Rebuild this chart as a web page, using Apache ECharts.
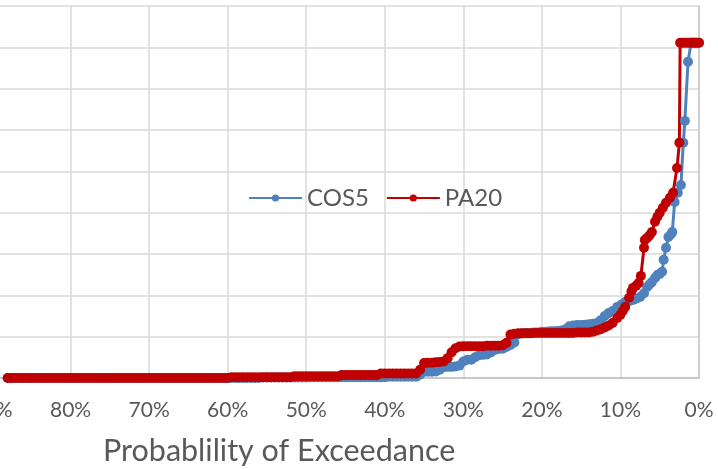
<!DOCTYPE html>
<html>
<head>
<meta charset="utf-8">
<script src="https://cdn.jsdelivr.net/npm/echarts@6/dist/echarts.min.js"></script>
<style>html,body{margin:0;padding:0;background:#fff;}#c{width:718px;height:469px;}</style>
</head>
<body>
<div id="c"></div>
<script>
// Probability of exceedance (fraction) vs value
const cos5Points = [
  [0.880,0.00],[0.875,0.00],[0.870,0.00],[0.865,0.00],[0.860,0.00],[0.855,0.00],[0.850,0.00],[0.845,0.00],[0.840,0.00],[0.835,0.00],
  [0.830,0.00],[0.825,0.00],[0.820,0.00],[0.815,0.00],[0.810,0.00],[0.805,0.00],[0.800,0.00],[0.795,0.00],[0.790,0.00],[0.785,0.00],
  [0.780,0.00],[0.775,0.00],[0.770,0.00],[0.765,0.00],[0.760,0.00],[0.755,0.00],[0.750,0.00],[0.745,0.00],[0.740,0.00],[0.735,0.00],
  [0.730,0.00],[0.725,0.00],[0.720,0.00],[0.715,0.00],[0.710,0.00],[0.705,0.00],[0.700,0.00],[0.695,0.00],[0.690,0.00],[0.685,0.00],
  [0.680,0.00],[0.675,0.00],[0.670,0.00],[0.665,0.00],[0.660,0.00],[0.655,0.00],[0.650,0.00],[0.645,0.00],[0.640,0.00],[0.635,0.00],
  [0.630,0.00],[0.625,0.00],[0.620,0.00],[0.615,0.00],[0.610,0.00],[0.605,0.00],[0.600,0.00],[0.595,0.00],[0.590,0.00],[0.585,0.00],
  [0.580,0.00],[0.575,0.00],[0.570,0.00],[0.565,0.00],[0.560,0.00],[0.555,0.01],[0.550,0.01],[0.545,0.01],[0.540,0.01],[0.535,0.01],
  [0.530,0.01],[0.525,0.01],[0.520,0.01],[0.515,0.01],[0.510,0.01],[0.505,0.01],[0.500,0.01],[0.495,0.02],[0.490,0.02],[0.485,0.02],
  [0.480,0.02],[0.475,0.02],[0.470,0.02],[0.465,0.02],[0.460,0.02],[0.455,0.02],[0.450,0.02],[0.445,0.02],[0.440,0.02],[0.435,0.02],
  [0.430,0.02],[0.425,0.02],[0.420,0.02],[0.415,0.02],[0.410,0.02],[0.405,0.02],[0.400,0.02],[0.395,0.03],[0.390,0.03],[0.385,0.03],
  [0.380,0.03],[0.375,0.03],[0.370,0.03],[0.365,0.03],[0.360,0.03],
  [0.355,0.08],[0.35,0.15],[0.345,0.15],[0.34,0.15],[0.335,0.16],[0.33,0.20],[0.325,0.26],
  [0.32,0.27],[0.315,0.27],[0.31,0.28],[0.305,0.30],[0.30,0.40],[0.295,0.44],[0.29,0.44],[0.285,0.50],[0.28,0.55],[0.275,0.56],
  [0.27,0.57],[0.265,0.62],[0.26,0.68],[0.255,0.70],[0.25,0.71],[0.245,0.75],[0.24,0.80],[0.235,0.86],[0.23,1.06],[0.225,1.08],
  [0.22,1.09],[0.215,1.09],[0.21,1.10],[0.205,1.10],[0.20,1.12],[0.195,1.12],[0.19,1.13],[0.185,1.13],[0.18,1.14],[0.175,1.15],
  [0.17,1.18],[0.165,1.25],[0.16,1.27],[0.155,1.28],[0.15,1.28],[0.145,1.29],[0.14,1.30],[0.135,1.31],[0.13,1.33],[0.125,1.40],
  [0.12,1.50],[0.115,1.57],[0.11,1.62],[0.104,1.72],[0.099,1.77],[0.094,1.84],[0.089,1.86],[0.084,1.89],[0.08,1.92],[0.075,1.96],
  [0.07,2.05],[0.066,2.20],[0.063,2.26],[0.06,2.32],[0.056,2.42],[0.053,2.49],[0.05,2.52],[0.047,2.57],[0.045,2.86],[0.042,3.15],
  [0.039,3.41],[0.036,3.47],[0.034,3.53],[0.031,4.26],[0.027,4.48],[0.023,4.67],[0.02,5.69],[0.018,6.22],[0.014,7.65],[0.01,8.11],
  [0.007,8.11],[0.004,8.11],[0.0,8.11]
];
const pa20Points = [
  [0.880,0.00],[0.875,0.00],[0.870,0.00],[0.865,0.00],[0.860,0.00],[0.855,0.00],[0.850,0.00],[0.845,0.00],[0.840,0.00],[0.835,0.00],
  [0.830,0.00],[0.825,0.00],[0.820,0.00],[0.815,0.00],[0.810,0.00],[0.805,0.00],[0.800,0.00],[0.795,0.00],[0.790,0.00],[0.785,0.00],
  [0.780,0.00],[0.775,0.00],[0.770,0.00],[0.765,0.00],[0.760,0.00],[0.755,0.00],[0.750,0.00],[0.745,0.00],[0.740,0.00],[0.735,0.00],
  [0.730,0.00],[0.725,0.00],[0.720,0.00],[0.715,0.00],[0.710,0.00],[0.705,0.00],[0.700,0.00],[0.695,0.00],[0.690,0.00],[0.685,0.00],
  [0.680,0.00],[0.675,0.00],[0.670,0.00],[0.665,0.00],[0.660,0.00],[0.655,0.00],[0.650,0.00],[0.645,0.00],[0.640,0.00],[0.635,0.00],
  [0.630,0.00],[0.625,0.00],[0.620,0.00],[0.615,0.00],[0.610,0.00],[0.605,0.00],[0.600,0.00],[0.595,0.02],[0.590,0.02],[0.585,0.02],
  [0.580,0.02],[0.575,0.02],[0.570,0.02],[0.565,0.02],[0.560,0.02],[0.555,0.02],[0.550,0.02],[0.545,0.02],[0.540,0.02],[0.535,0.02],
  [0.530,0.02],[0.525,0.02],[0.520,0.02],[0.515,0.04],[0.510,0.04],[0.505,0.04],[0.500,0.04],[0.495,0.04],[0.490,0.04],[0.485,0.04],
  [0.480,0.04],[0.475,0.04],[0.470,0.04],[0.465,0.04],[0.460,0.04],[0.455,0.07],[0.450,0.07],[0.445,0.07],[0.440,0.07],[0.435,0.07],
  [0.430,0.07],[0.425,0.07],[0.420,0.07],[0.415,0.07],[0.410,0.07],[0.405,0.11],[0.400,0.11],[0.395,0.11],[0.390,0.11],[0.385,0.11],
  [0.380,0.11],[0.375,0.11],[0.370,0.11],[0.365,0.11],[0.360,0.11],
  [0.355,0.20],[0.35,0.36],[0.345,0.37],[0.34,0.37],[0.335,0.38],[0.33,0.39],[0.325,0.40],
  [0.32,0.48],[0.315,0.62],[0.31,0.72],[0.305,0.76],[0.30,0.77],[0.295,0.77],[0.29,0.77],[0.285,0.77],[0.28,0.77],[0.275,0.77],
  [0.27,0.78],[0.265,0.78],[0.26,0.78],[0.255,0.78],[0.25,0.79],[0.245,0.85],[0.24,1.05],[0.235,1.07],[0.23,1.08],[0.225,1.08],
  [0.22,1.08],[0.215,1.08],[0.21,1.09],[0.205,1.09],[0.20,1.09],[0.195,1.09],[0.19,1.09],[0.185,1.09],[0.18,1.09],[0.175,1.09],
  [0.17,1.09],[0.165,1.09],[0.16,1.09],[0.155,1.10],[0.15,1.10],[0.145,1.10],[0.14,1.10],[0.135,1.12],[0.13,1.15],[0.125,1.18],
  [0.12,1.22],[0.115,1.27],[0.11,1.33],[0.104,1.45],[0.10,1.53],[0.097,1.62],[0.094,1.72],[0.089,1.94],[0.086,2.10],[0.084,2.18],
  [0.08,2.23],[0.077,2.30],[0.074,2.47],[0.07,3.15],[0.069,3.34],[0.066,3.39],[0.063,3.45],[0.06,3.53],[0.056,3.78],[0.053,3.90],
  [0.05,4.00],[0.046,4.12],[0.042,4.24],[0.037,4.36],[0.033,4.48],[0.028,5.08],[0.025,5.69],[0.024,8.11],[0.021,8.11],[0.018,8.11],
  [0.015,8.11],[0.012,8.11],[0.009,8.11],[0.006,8.11],[0.003,8.11],[0.0,8.11]
];
const seriesNames = ['COS5', 'PA20'];
const xTickStep = 0.1;
const axisTitle = 'Probablility of Exceedance';

const chart = echarts.init(document.getElementById('c'), null, {renderer: 'canvas'});
const font = 'Lato, "Open Sans", sans-serif';
chart.setOption({
  animation: false,
  backgroundColor: '#ffffff',
  title: {
    text: axisTitle,
    left: 103,
    top: 436,
    padding: 0,
    textStyle: {fontFamily: font, fontSize: 30.5, fontWeight: 'normal', color: '#595959'}
  },
  legend: {
    data: seriesNames,
    left: 248,
    top: 186,
    padding: 0,
    itemWidth: 53,
    itemHeight: 9,
    itemGap: 17,
    textStyle: {fontFamily: font, fontSize: 24, color: '#595959'}
  },
  grid: {left: -8, right: 19, top: 6, bottom: 91, containLabel: false, outerBoundsMode: 'none'},
  xAxis: {
    type: 'value',
    inverse: true,
    min: 0,
    max: 0.9,
    interval: xTickStep,
    axisLine: {show: true, lineStyle: {color: '#bfbfbf', width: 1.5}},
    axisTick: {show: false},
    axisLabel: {
      margin: 22,
      fontFamily: font, fontSize: 21, color: '#595959',
      formatter: v => Math.round(v * 100) + '%'
    },
    splitLine: {show: true, lineStyle: {color: '#d9d9d9', width: 1.5}}
  },
  yAxis: {
    type: 'value',
    min: 0,
    max: 9,
    interval: 1,
    axisLine: {show: true, onZero: true, lineStyle: {color: '#c8c8c8', width: 1.5}},
    axisTick: {show: false},
    axisLabel: {show: false},
    splitLine: {show: true, lineStyle: {color: '#d9d9d9', width: 1.5}}
  },
  series: [
    {
      name: seriesNames[0], type: 'line', data: cos5Points,
      symbol: 'circle', symbolSize: 10, showAllSymbol: true,
      itemStyle: {color: '#4f81bd'},
      lineStyle: {color: '#4f81bd', width: 3}
    },
    {
      name: seriesNames[1], type: 'line', data: pa20Points,
      symbol: 'circle', symbolSize: 10, showAllSymbol: true,
      itemStyle: {color: '#c00000'},
      lineStyle: {color: '#c00000', width: 3}
    }
  ]
});
</script>
</body>
</html>
